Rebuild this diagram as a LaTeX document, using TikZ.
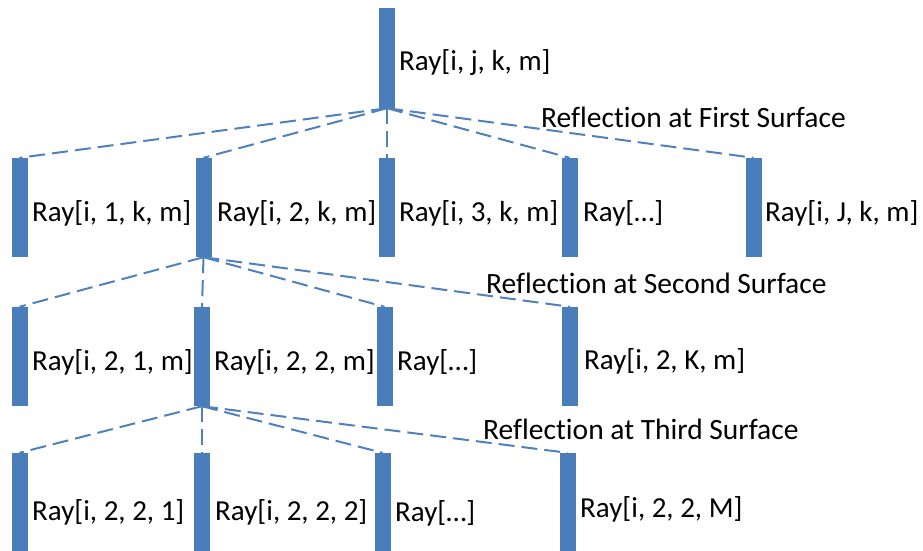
\documentclass[tikz,border=0pt]{standalone}
\usepackage{fontspec}
\setmainfont[Ligatures=NoCommon]{Carlito}
\definecolor{raybar}{HTML}{4A7EBB}
\definecolor{rayline}{HTML}{4F81BD}
\tikzset{
  raybox/.style={rectangle, fill=raybar, draw=none, inner sep=0pt,
    minimum width=16pt, minimum height=99pt},
  raylabel/.style={anchor=west, inner sep=0pt, font=\fontsize{29}{31}\selectfont},
  surflabel/.style={anchor=west, inner sep=0pt, font=\fontsize{29.5}{31}\selectfont},
  branch/.style={draw=rayline, line width=2pt, dash pattern=on 16pt off 7pt}
}
\begin{document}
\begin{tikzpicture}[x=1pt, y=-1pt]
\useasboundingbox (0,0) rectangle (923,551);

% root ray
\node[raybox, minimum height=100pt] (r) at (387,58) {};
\node[raylabel] (lr) at (399,63) {Ray[i, j, k, m]};

% rays after the first surface
\node[raybox] (a1) at (19.5,207.5) {};
\node[raybox] (a2) at (203.5,207.5) {};
\node[raybox] (a3) at (387,207.5) {};
\node[raybox] (a4) at (569.5,207.5) {};
\node[raybox] (a5) at (753.5,207.5) {};
\node[raylabel] (la1) at (32,213) {Ray[i, 1, k, m]};
\node[raylabel] (la2) at (217,213) {Ray[i, 2, k, m]};
\node[raylabel] (la3) at (399,213) {Ray[i, 3, k, m]};
\node[raylabel] (la4) at (583,213) {Ray[…]};
\node[raylabel] (la5) at (765,213) {Ray[i, J, k, m]};
\node[surflabel] (s1) at (541,117) {Reflection at First Surface};

% rays after the second surface
\node[raybox] (b1) at (19.5,356.5) {};
\node[raybox] (b2) at (202,356.5) {};
\node[raybox] (b3) at (384.5,356.5) {};
\node[raybox] (b4) at (570,356.5) {};
\node[raylabel] (lb1) at (32,362) {Ray[i, 2, 1, m]};
\node[raylabel] (lb2) at (214,362) {Ray[i, 2, 2, m]};
\node[raylabel] (lb3) at (397,362) {Ray[…]};
\node[raylabel] (lb4) at (584,361) {Ray[i, 2, K, m]};
\node[surflabel] (s2) at (486,283) {Reflection at Second Surface};

% rays after the third surface
\node[raybox] (c1) at (19.5,502.5) {};
\node[raybox] (c2) at (202,502.5) {};
\node[raybox] (c3) at (382.5,502.5) {};
\node[raybox] (c4) at (567.5,502.5) {};
\node[raylabel] (lc1) at (32,512) {Ray[i, 2, 2, 1]};
\node[raylabel] (lc2) at (215,512) {Ray[i, 2, 2, 2]};
\node[raylabel] (lc3) at (395,513) {Ray[…]};
\node[raylabel] (lc4) at (580,509) {Ray[i, 2, 2, M]};
\node[surflabel] (s3) at (483,429) {Reflection at Third Surface};

% branching connectors
\foreach \c in {a1,a2,a3,a4,a5} \draw[branch] (r.south) -- (\c.north);
\foreach \c in {b1,b2,b3,b4} \draw[branch] (a2.south) -- (\c.north);
\foreach \c in {c1,c2,c3,c4} \draw[branch] (b2.south) -- (\c.north);
\end{tikzpicture}
\end{document}
